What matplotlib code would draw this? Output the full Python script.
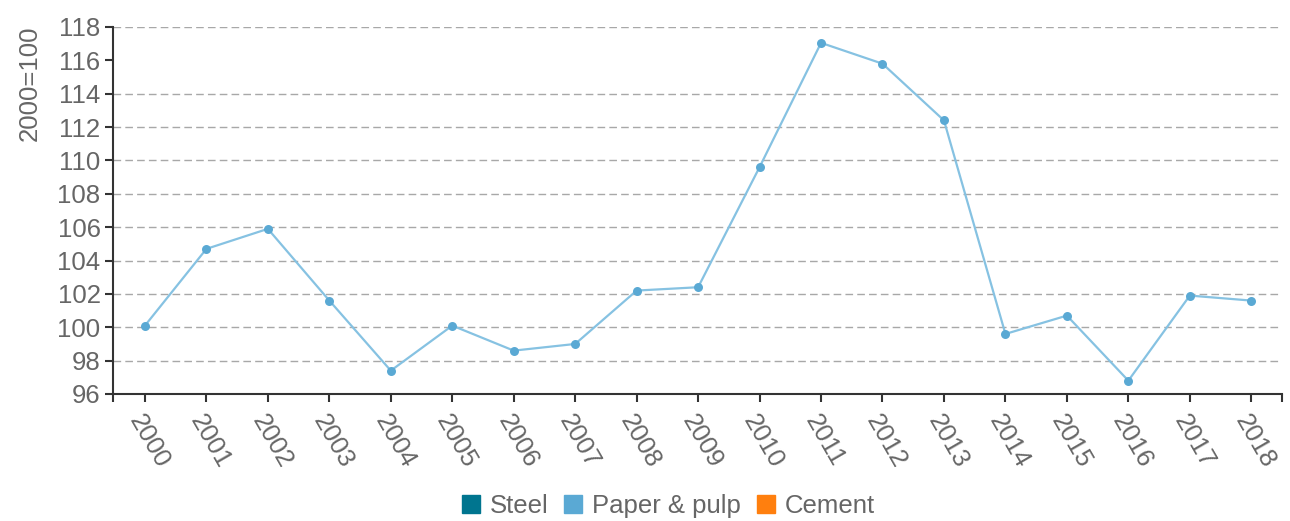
import numpy as np
import matplotlib.pyplot as plt
from matplotlib.lines import Line2D

plt.rcParams['font.family'] = ['Liberation Sans', 'DejaVu Sans']

# data
years = list(range(2000, 2019))
paper_pulp = [100.1, 104.7, 105.9, 101.6, 97.4, 100.1, 98.6, 99.0, 102.2, 102.4,
              109.6, 117.05, 115.8, 112.4, 99.6, 100.7, 96.8, 101.9, 101.6]
y_ticks = list(range(96, 119, 2))
legend_names = ['Steel', 'Paper & pulp', 'Cement']
legend_colors = ['#00758f', '#5aa9d4', '#ff7f0e']

text_col = '#666666'
axis_col = '#333333'
fs = 18.5

fig = plt.figure(figsize=(12.9, 5.21), dpi=100)
ax = fig.add_axes([113 / 1290, 1 - 394 / 521, (1282 - 113) / 1290, (394 - 27) / 521])

x = np.arange(len(years))
ax.plot(x, paper_pulp, color='#86c2e2', lw=1.6, zorder=3)
ax.scatter(x, paper_pulp, s=42, color='#5aa9d4', zorder=4, linewidths=0)

# gridlines (the 116 line is absent in the original)
for v in y_ticks[1:]:
    if v == 116:
        continue
    ax.axhline(v, color='#a8a8a8', lw=1.0, dashes=(5.5, 3), zorder=1)

ax.set_xlim(-0.52, len(years) - 0.5)
ax.set_ylim(96, 118)
ax.set_xticks(x)
ax.set_xticklabels([str(y) for y in years], rotation=-60, ha='left',
                   rotation_mode='anchor', fontsize=fs, color=text_col)
ax.set_yticks(y_ticks)
ax.set_yticklabels([str(v) for v in y_ticks], fontsize=fs, color=text_col)

# domain end ticks
ax.set_xticks([-0.52, len(years) - 0.5], minor=True)
ax.tick_params(axis='x', which='minor', length=6, width=1.5, color=axis_col)
ax.tick_params(axis='both', which='major', length=6, width=1.5, color=axis_col, pad=3)
ax.tick_params(axis='x', which='major', pad=6)

for s in ['top', 'right']:
    ax.spines[s].set_visible(False)
for s in ['left', 'bottom']:
    ax.spines[s].set_color(axis_col)
    ax.spines[s].set_linewidth(1.5)

fig.text(30 / 1290, 1 - 83 / 521, '2000=100', rotation=90, ha='center', va='center',
         fontsize=fs, color=text_col)

handles = [Line2D([], [], marker='s', linestyle='none', markersize=13,
                  markerfacecolor=c, markeredgecolor=c) for c in legend_colors]
fig.legend(handles, legend_names, loc='center', bbox_to_anchor=(667 / 1290, 1 - 506 / 521),
           ncol=3, frameon=False, fontsize=fs, labelcolor=text_col,
           handletextpad=0.3, columnspacing=0.5, handlelength=0.9)

fig.savefig('out.png', dpi=100)
